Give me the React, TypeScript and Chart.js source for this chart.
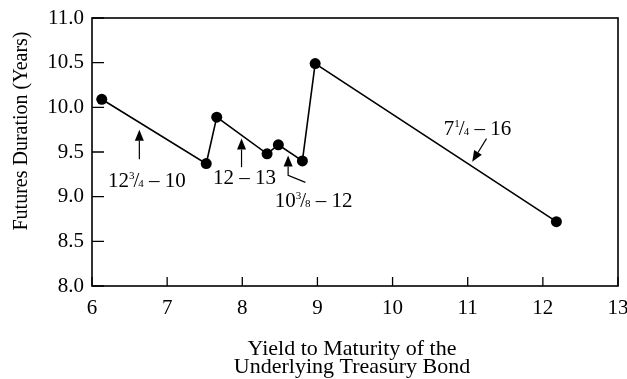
import { useEffect, useRef } from "react";
import { Chart, registerables } from "chart.js";
Chart.register(...registerables);

// Data
const yieldToMaturity = [6.13, 7.52, 7.66, 8.33, 8.48, 8.8, 8.97, 12.18];
const futuresDuration = [10.09, 9.37, 9.89, 9.48, 9.58, 9.4, 10.49, 8.72];
const xTickValues = [6, 7, 8, 9, 10, 11, 12, 13];
const yTickValues = [8.0, 8.5, 9.0, 9.5, 10.0, 10.5, 11.0];

// Bond labels: whole, numerator, denominator, rest
const labelWhole = ["12", "12", "10", "7"];
const labelNum = ["3", "", "3", "1"];
const labelDen = ["4", "", "8", "4"];
const labelRest = [" – 10", " – 13", " – 12", " – 16"];
// label anchor positions in data units (x, y)
const labelX = [6.73, 8.03, 8.95, 11.13];
const labelY = [9.19, 9.22, 8.96, 9.77];
// arrow polylines in data units; last point is the arrow tip
const arrowXs = [[6.63, 6.63], [7.99, 7.99], [8.84, 8.61, 8.61], [11.25, 11.06]];
const arrowYs = [[9.42, 9.75], [9.33, 9.65], [9.16, 9.24, 9.46], [9.65, 9.39]];

const FONT = "'Liberation Serif', 'Times New Roman', serif";

function drawLabel(ctx: CanvasRenderingContext2D, cx: number, cy: number, i: number) {
  const size = 21;
  const small = 11;
  const big = `${size}px ${FONT}`;
  const sm = `${small}px ${FONT}`;
  ctx.font = big;
  const wWhole = ctx.measureText(labelWhole[i]).width;
  const wRest = ctx.measureText(labelRest[i]).width;
  const hasFrac = labelNum[i] !== "";
  let wFrac = 0;
  let wSlash = 0;
  let wNum = 0;
  let wDen = 0;
  if (hasFrac) {
    wSlash = ctx.measureText("/").width;
    ctx.font = sm;
    wNum = ctx.measureText(labelNum[i]).width;
    wDen = ctx.measureText(labelDen[i]).width;
    wFrac = wNum + wSlash - 2 + wDen;
  }
  const total = wWhole + wFrac + wRest;
  let x = cx - total / 2;
  const base = cy + size * 0.33;
  ctx.fillStyle = "#000";
  ctx.textAlign = "left";
  ctx.textBaseline = "alphabetic";
  ctx.font = big;
  ctx.fillText(labelWhole[i], x, base);
  x += wWhole;
  if (hasFrac) {
    ctx.font = sm;
    ctx.fillText(labelNum[i], x, base - size * 0.38);
    x += wNum - 1;
    ctx.font = big;
    ctx.fillText("/", x, base);
    x += wSlash - 1;
    ctx.font = sm;
    ctx.fillText(labelDen[i], x, base);
    x += wDen;
  }
  ctx.font = big;
  ctx.fillText(labelRest[i], x, base);
}

const overlay = {
  id: "overlay",
  afterDraw(chart: any) {
    const ctx: CanvasRenderingContext2D = chart.ctx;
    const { left, right, top, bottom } = chart.chartArea;
    const xs = chart.scales.x;
    const ys = chart.scales.y;
    ctx.save();
    // frame
    ctx.strokeStyle = "#000";
    ctx.lineWidth = 1.6;
    ctx.strokeRect(left, top, right - left, bottom - top);
    // inward ticks
    ctx.lineWidth = 1.3;
    ctx.beginPath();
    for (const v of xTickValues) {
      const px = xs.getPixelForValue(v);
      ctx.moveTo(px, bottom);
      ctx.lineTo(px, bottom - 9);
    }
    for (const v of yTickValues) {
      const py = ys.getPixelForValue(v);
      ctx.moveTo(left, py);
      ctx.lineTo(left + 12, py);
    }
    ctx.stroke();

    // arrows
    ctx.lineWidth = 1.2;
    for (let a = 0; a < arrowXs.length; a++) {
      const pts = arrowXs[a].map((vx, k) => [xs.getPixelForValue(vx), ys.getPixelForValue(arrowYs[a][k])]);
      const n = pts.length;
      const [tx, ty] = pts[n - 1];
      const [px, py] = pts[n - 2];
      const ang = Math.atan2(ty - py, tx - px);
      const headLen = 11;
      const headW = 4.5;
      ctx.beginPath();
      ctx.moveTo(pts[0][0], pts[0][1]);
      for (let k = 1; k < n - 1; k++) ctx.lineTo(pts[k][0], pts[k][1]);
      ctx.lineTo(tx - Math.cos(ang) * headLen, ty - Math.sin(ang) * headLen);
      ctx.stroke();
      ctx.beginPath();
      ctx.moveTo(tx, ty);
      ctx.lineTo(
        tx - Math.cos(ang) * headLen - Math.sin(ang) * headW,
        ty - Math.sin(ang) * headLen + Math.cos(ang) * headW
      );
      ctx.lineTo(
        tx - Math.cos(ang) * headLen + Math.sin(ang) * headW,
        ty - Math.sin(ang) * headLen - Math.cos(ang) * headW
      );
      ctx.closePath();
      ctx.fillStyle = "#000";
      ctx.fill();
    }

    // labels
    for (let i = 0; i < labelWhole.length; i++) {
      drawLabel(ctx, xs.getPixelForValue(labelX[i]), ys.getPixelForValue(labelY[i]), i);
    }

    // axis titles
    ctx.fillStyle = "#000";
    ctx.font = `22px ${FONT}`;
    ctx.textAlign = "center";
    ctx.textBaseline = "alphabetic";
    const midX = 352;
    ctx.fillText("Yield to Maturity of the", midX, 355);
    ctx.fillText("Underlying Treasury Bond", midX, 373);
    ctx.font = `20px ${FONT}`;
    ctx.textBaseline = "middle";
    ctx.save();
    ctx.translate(22, 131);
    ctx.rotate(-Math.PI / 2);
    ctx.fillText("Futures Duration (Years)", 0, 0);
    ctx.restore();
    ctx.restore();
  },
};

export default function App() {
  const ref = useRef<HTMLCanvasElement>(null);
  useEffect(() => {
    if (!ref.current) return;
    const chart = new Chart(ref.current, {
      type: "scatter",
      data: {
        datasets: [
          {
            data: yieldToMaturity.map((x, i) => ({ x, y: futuresDuration[i] })),
            showLine: true,
            borderColor: "#000",
            borderWidth: 1.6,
            backgroundColor: "#000",
            pointBackgroundColor: "#000",
            pointBorderColor: "#000",
            pointRadius: 5.5,
            pointBorderWidth: 0,
            tension: 0,
          },
        ],
      },
      options: {
        animation: false,
        responsive: false,
        devicePixelRatio: 1,
        layout: { padding: { top: 18, right: 9, left: 0, bottom: 0 } },
        plugins: { legend: { display: false }, tooltip: { enabled: false } },
        scales: {
          x: {
            type: "linear",
            min: 6,
            max: 13,
            grid: { display: false, drawTicks: false },
            border: { display: false },
            afterBuildTicks: (s: any) => {
              s.ticks = xTickValues.map((v) => ({ value: v }));
            },
            afterFit: (s: any) => {
              s.height = 93;
              s.paddingLeft = 0;
              s.paddingRight = 0;
            },
            ticks: {
              color: "#000",
              padding: 10,
              maxRotation: 0,
              font: { family: FONT, size: 21 },
              callback: (v: any) => String(v),
            },
          },
          y: {
            type: "linear",
            min: 8,
            max: 11,
            grid: { display: false, drawTicks: false },
            border: { display: false },
            afterBuildTicks: (s: any) => {
              s.ticks = yTickValues.map((v) => ({ value: v }));
            },
            afterFit: (s: any) => {
              s.width = 92;
              s.paddingTop = 0;
              s.paddingBottom = 0;
            },
            ticks: {
              color: "#000",
              padding: 8,
              font: { family: FONT, size: 21 },
              callback: (v: any) => Number(v).toFixed(1),
            },
          },
        },
      },
      plugins: [overlay],
    });
    return () => chart.destroy();
  }, []);
  return (
    <div style={{ position: "fixed", left: 0, top: 0, width: 627, height: 379, background: "#fff" }}>
      <canvas ref={ref} width={627} height={379} />
    </div>
  );
}
